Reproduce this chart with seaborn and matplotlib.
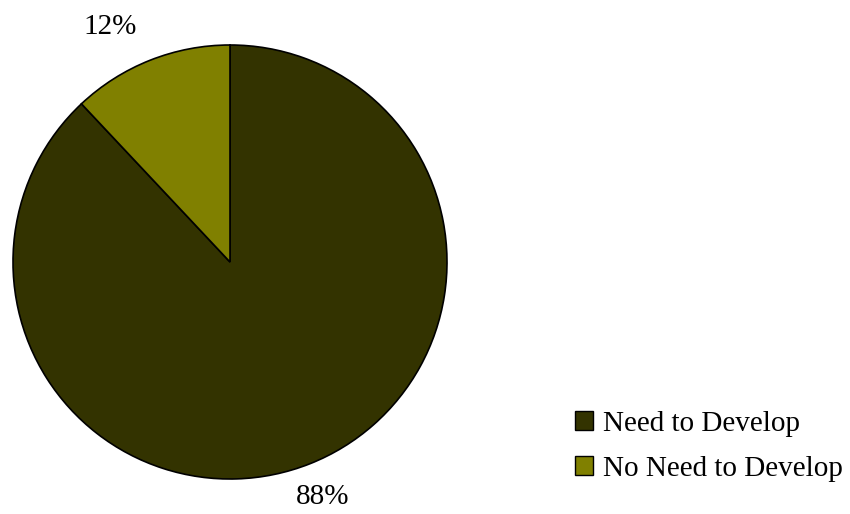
import matplotlib
matplotlib.use('Agg')
import matplotlib.pyplot as plt
import seaborn as sns

labels = ['Need to Develop', 'No Need to Develop']
shares = [88, 12]
colors = ['#333300', '#808000']

sns.set_theme(style='white')
plt.rcParams['font.family'] = ['Liberation Serif', 'DejaVu Serif']
plt.rcParams['text.color'] = 'black'

fig = plt.figure(figsize=(8.5, 5.14), dpi=100)
ax = fig.add_axes([13 / 850, 35 / 514, 434 / 850, 434 / 514])

wedges, texts, autotexts = ax.pie(
    shares, colors=colors, startangle=90, counterclock=False,
    autopct='%1.0f%%', pctdistance=1.165,
    wedgeprops={'edgecolor': 'black', 'linewidth': 1.2},
    textprops={'fontsize': 21, 'color': 'black'},
)
# small slice label sits to the left of its anchor, like the original
autotexts[1].set_ha('right')
ax.set_xlim(-1, 1)
ax.set_ylim(-1, 1)
ax.set_aspect('equal')

leg = fig.legend(wedges, labels, loc='upper left', bbox_to_anchor=(0.659, 0.229),
                 frameon=False, fontsize=21, handlelength=0.62, handleheight=0.62,
                 handletextpad=0.35, labelspacing=0.64, borderpad=0)
for h in leg.legend_handles:
    h.set_linewidth(1.0)

fig.savefig('out.png', dpi=100)
